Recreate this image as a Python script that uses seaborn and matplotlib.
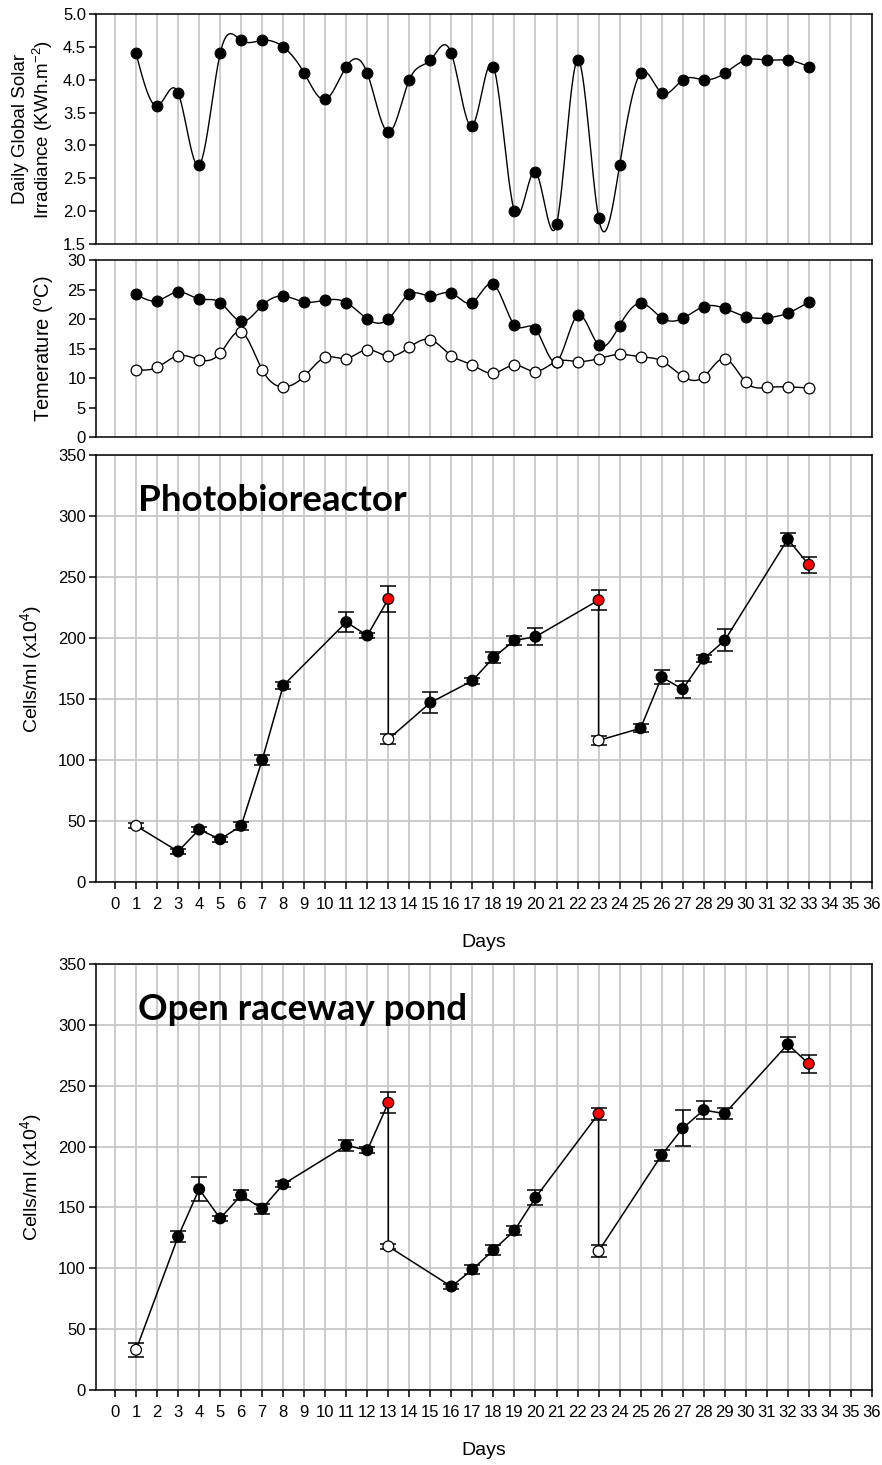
import numpy as np
import pandas as pd
import matplotlib
matplotlib.use("Agg")
import matplotlib.pyplot as plt
import seaborn as sns

# ---- data ----
days = list(range(1, 34))
irradiance = [4.4, 3.6, 3.8, 2.7, 4.4, 4.6, 4.6, 4.5, 4.1, 3.7, 4.2, 4.1, 3.2,
              4.0, 4.3, 4.4, 3.3, 4.2, 2.0, 2.6, 1.8, 4.3, 1.9, 2.7, 4.1, 3.8,
              4.0, 4.0, 4.1, 4.3, 4.3, 4.3, 4.2]
temp_max = [24.2, 23.1, 24.6, 23.4, 22.8, 19.6, 22.3, 23.9, 22.9, 23.2, 22.8,
            20.0, 20.0, 24.2, 23.9, 24.4, 22.8, 25.9, 19.0, 18.3, 12.8, 20.6,
            15.6, 18.9, 22.7, 20.2, 20.1, 22.1, 21.8, 20.4, 20.2, 21.0, 22.9]
temp_min = [11.4, 11.8, 13.8, 13.1, 14.2, 17.8, 11.4, 8.5, 10.3, 13.5, 13.3,
            14.8, 13.7, 15.2, 16.5, 13.8, 12.2, 10.8, 12.2, 11.1, 12.8, 12.8,
            13.3, 14.0, 13.6, 12.9, 10.3, 10.2, 13.3, 9.3, 8.4, 8.5, 8.3]

pbr_days = [1, 3, 4, 5, 6, 7, 8, 11, 12, 13, 13, 15, 17, 18, 19, 20, 23, 23,
            25, 26, 27, 28, 29, 32, 33]
pbr_cells = [46, 25, 43, 35, 46, 100, 161, 213, 202, 232, 117, 147, 165, 184,
             198, 201, 231, 116, 126, 168, 158, 183, 198, 281, 260]
pbr_err = [2, 2, 2, 2, 3.5, 4, 3, 8.5, 2, 10.8, 4, 8.6, 2.5, 4.4, 3.8, 7, 8.2,
           3.7, 3.4, 6, 6.8, 3, 9, 5.2, 6.7]
pbr_kind = ['start', 'grow', 'grow', 'grow', 'grow', 'grow', 'grow', 'grow',
            'grow', 'harvest', 'start', 'grow', 'grow', 'grow', 'grow', 'grow',
            'harvest', 'start', 'grow', 'grow', 'grow', 'grow', 'grow', 'grow',
            'harvest']

orp_days = [1, 3, 4, 5, 6, 7, 8, 11, 12, 13, 13, 16, 17, 18, 19, 20, 23, 23,
            26, 27, 28, 29, 32, 33]
orp_cells = [33, 126, 165, 141, 160, 149, 169, 201, 197, 236, 118, 85, 99, 115,
             131, 158, 227, 114, 193, 215, 230, 227, 284, 268]
orp_err = [5.7, 4.5, 9.7, 2, 4.2, 4.1, 2.5, 4.5, 2.7, 8.6, 2, 2, 3.7, 4.1, 3.4,
           6.1, 4.8, 5, 4.5, 14.8, 7.2, 4.6, 6.4, 7.3]
orp_kind = ['start', 'grow', 'grow', 'grow', 'grow', 'grow', 'grow', 'grow',
            'grow', 'harvest', 'start', 'grow', 'grow', 'grow', 'grow', 'grow',
            'harvest', 'start', 'grow', 'grow', 'grow', 'grow', 'grow',
            'harvest']

day_ticks = list(range(0, 37))

face = {'start': 'white', 'grow': 'black', 'harvest': '#ff0000'}


def natural_spline(x, y, n=25):
    """smooth curve through the points (SigmaPlot style spline line)"""
    x = np.asarray(x, float)
    y = np.asarray(y, float)
    h = np.diff(x)
    m = len(x)
    A = np.zeros((m, m))
    b = np.zeros(m)
    A[0, 0] = A[-1, -1] = 1
    for i in range(1, m - 1):
        A[i, i - 1] = h[i - 1]
        A[i, i] = 2 * (h[i - 1] + h[i])
        A[i, i + 1] = h[i]
        b[i] = 6 * ((y[i + 1] - y[i]) / h[i] - (y[i] - y[i - 1]) / h[i - 1])
    M = np.linalg.solve(A, b)
    xs, ys = [], []
    for i in range(m - 1):
        t = np.linspace(x[i], x[i + 1], n, endpoint=(i == m - 2))
        hi = h[i]
        s = (M[i] * (x[i + 1] - t) ** 3 / (6 * hi)
             + M[i + 1] * (t - x[i]) ** 3 / (6 * hi)
             + (y[i] - M[i] * hi ** 2 / 6) * (x[i + 1] - t) / hi
             + (y[i + 1] - M[i + 1] * hi ** 2 / 6) * (t - x[i]) / hi)
        xs.append(t)
        ys.append(s)
    return np.concatenate(xs), np.concatenate(ys)


sns.set_theme(style="ticks")
plt.rcParams['font.family'] = ['Liberation Sans', 'DejaVu Sans']
plt.rcParams['mathtext.default'] = 'regular'
plt.rcParams['axes.linewidth'] = 1.1
plt.rcParams['axes.edgecolor'] = 'black'

fig = plt.figure(figsize=(8.82, 14.65), dpi=100)
L, W = 0.1085, 0.880
ax_irr = fig.add_axes([L, 0.8334, W, 0.1570])
ax_tmp = fig.add_axes([L, 0.7017, W, 0.1208])
ax_pbr = fig.add_axes([L, 0.3980, W, 0.2914])
ax_orp = fig.add_axes([L, 0.0512, W, 0.2908])

grid_kw = dict(color='#c8c8c8', linewidth=1.3)

for ax in (ax_irr, ax_tmp, ax_pbr, ax_orp):
    ax.set_xlim(-0.92, 36)
    ax.set_xticks(day_ticks)
    ax.grid(axis='x', **grid_kw)
    ax.set_axisbelow(True)
    for sp in ax.spines.values():
        sp.set_visible(True)
        sp.set_color('black')
    ax.tick_params(axis='y', direction='out', length=5, width=1.1,
                   color='black', labelsize=12, pad=2, labelcolor='black')

for ax in (ax_irr, ax_tmp):
    ax.tick_params(axis='x', length=0, labelbottom=False)

# ---- irradiance ----
sx, sy = natural_spline(days, irradiance)
ax_irr.plot(sx, sy, color='black', lw=1.0, zorder=2)
sns.scatterplot(x=days, y=irradiance, ax=ax_irr, color='black', s=60,
                edgecolor='black', linewidth=0.8, zorder=3, legend=False)
ax_irr.set_ylim(1.5, 5.0)
ax_irr.set_yticks(np.arange(1.5, 5.01, 0.5))
ax_irr.set_yticklabels([f'{v:.1f}' for v in np.arange(1.5, 5.01, 0.5)])
ax_irr.set_ylabel('Daily Global Solar\nIrradiance (KWh.m$^{-2}$)', fontsize=13.5,
                  labelpad=6, color='black', linespacing=1.1)

# ---- temperature ----
for vals, fc in ((temp_max, 'black'), (temp_min, 'white')):
    sx, sy = natural_spline(days, vals)
    ax_tmp.plot(sx, sy, color='black', lw=1.0, zorder=2)
    sns.scatterplot(x=days, y=vals, ax=ax_tmp, color=fc, s=60,
                    edgecolor='black', linewidth=0.9, zorder=3, legend=False)
ax_tmp.set_ylim(0, 30)
ax_tmp.set_yticks(range(0, 31, 5))
ax_tmp.set_ylabel('Temerature ($^{o}$C)', fontsize=14.5, labelpad=8,
                  color='black')


# ---- growth panels ----
def growth_panel(ax, d, c, e, k, title):
    df = pd.DataFrame({'day': d, 'cells': c, 'err': e, 'kind': k})
    ax.grid(axis='y', **grid_kw)
    sns.lineplot(data=df, x='day', y='cells', sort=False, estimator=None,
                 color='black', lw=1.1, ax=ax, zorder=2)
    ax.errorbar(df['day'], df['cells'], yerr=df['err'], fmt='none',
                ecolor='black', elinewidth=1.1, capsize=6, capthick=1.1,
                zorder=3)
    sns.scatterplot(data=df, x='day', y='cells', hue='kind', palette=face,
                    s=60, edgecolor='black', linewidth=0.9, ax=ax,
                    legend=False, zorder=4)
    ax.set_ylim(0, 350)
    ax.set_yticks(range(0, 351, 50))
    ax.tick_params(axis='x', direction='out', length=5, width=1.1,
                   color='black', labelsize=12, pad=6, labelcolor='black')
    ax.set_xlabel('Days', fontsize=14, labelpad=16, color='black')
    ax.set_ylabel('Cells/ml (x10$^{4}$)', fontsize=14, labelpad=10,
                  color='black')
    ax.text(1.1, 313, title, fontsize=26.5, fontweight='bold', family='Lato',
            va='center', ha='left', color='black')


growth_panel(ax_pbr, pbr_days, pbr_cells, pbr_err, pbr_kind, 'Photobioreactor')
growth_panel(ax_orp, orp_days, orp_cells, orp_err, orp_kind, 'Open raceway pond')

fig.savefig('out.png', dpi=100)
